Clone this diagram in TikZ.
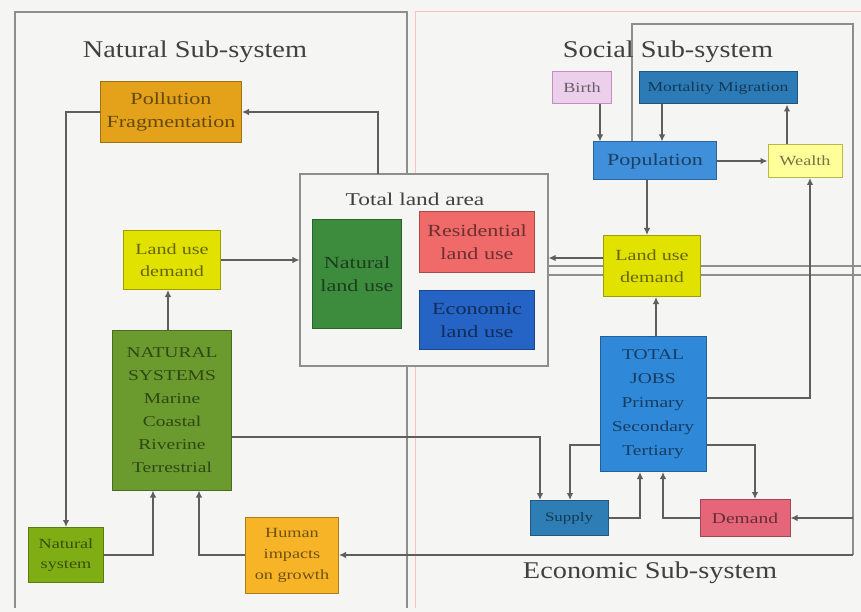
\documentclass[tikz,border=0pt]{standalone}
\usepackage{fontspec}
\setmainfont{Liberation Serif}
\newfontfamily\boxfont[FakeStretch=1.3]{Liberation Serif}
\newfontfamily\titlefont[FakeStretch=1.18]{Liberation Serif}
\usetikzlibrary{positioning,arrows.meta}

\definecolor{bgcol}{HTML}{F5F5F3}
\definecolor{pollcol}{HTML}{E3A21A}
\definecolor{birthcol}{HTML}{EBCFEB}
\definecolor{mortcol}{HTML}{2C7BB6}
\definecolor{popcol}{HTML}{3F8FDA}
\definecolor{wealthcol}{HTML}{FFFF99}
\definecolor{ludcol}{HTML}{E2E200}
\definecolor{natlandcol}{HTML}{3D8B3D}
\definecolor{reslandcol}{HTML}{F06A6A}
\definecolor{ecolandcol}{HTML}{2563C4}
\definecolor{natsyscol}{HTML}{6B9B2E}
\definecolor{natsmallcol}{HTML}{7FAE14}
\definecolor{humancol}{HTML}{F7B427}
\definecolor{jobscol}{HTML}{3088D8}
\definecolor{supplycol}{HTML}{2E7DB5}
\definecolor{demandcol}{HTML}{E56579}
\definecolor{linecol}{HTML}{5E5E5E}

\tikzset{
  sysbox/.style={draw=#1!70!black, fill=#1, text=#1!45!black, line width=1pt,
    inner sep=0pt, align=center, font=\boxfont\fontsize{15.5}{22}\selectfont},
  title/.style={font=\titlefont\fontsize{24}{28}\selectfont, text=black!75},
  frame/.style={draw=linecol!70, line width=1.1pt},
  arr/.style={draw=linecol, line width=1.3pt, -{Latex[length=7pt,width=6.5pt]}}
}

\begin{document}
\begin{tikzpicture}[x=1pt,y=-1pt]
  \fill[bgcol] (0,0) rectangle (861,612);
  \useasboundingbox (0,0) rectangle (861,612);

  % frames of the sub-systems
  \draw[frame] (15,608) -- (15,12) -- (407,12) -- (407,608);
  \draw[draw=red!25, line width=1pt] (415,608) -- (415,12) -- (861,12);
  \draw[frame] (632,142) -- (632,24) -- (853,24) -- (853,555);
  \draw[frame] (548,266) -- (861,266);
  \draw[frame] (548,275) -- (861,275);
  \coordinate (ecoR) at (853,518);
  \coordinate (ecoB) at (853,555);
  \coordinate (tltop) at (378,174);

  \node[title] (nattitle) at (195,52) {Natural Sub-system};
  \node[title] (soctitle) at (668,52) {Social Sub-system};
  \node[title] (ecotitle) at (650,573) {Economic Sub-system};

  % natural sub-system
  \node[sysbox=pollcol, minimum width=141, minimum height=61,
        font=\boxfont\fontsize{17}{23}\selectfont] (poll) at (171,112) {Pollution\\Fragmentation};
  \node[sysbox=ludcol, minimum width=97, minimum height=59] (ludL) at (172,260) {Land use\\demand};
  \node[sysbox=natsyscol, minimum width=119, minimum height=160,
        font=\boxfont\fontsize{15}{23}\selectfont] (natsys) at (172,410)
        {NATURAL\\SYSTEMS\\Marine\\Coastal\\Riverine\\Terrestrial};
  \node[sysbox=natsmallcol, minimum width=75, minimum height=55,
        font=\boxfont\fontsize{14}{20}\selectfont] (natsmall) at (66,555) {Natural\\system};
  \node[sysbox=humancol, minimum width=93, minimum height=76,
        font=\boxfont\fontsize{14}{21}\selectfont] (human) at (292,555) {Human\\impacts\\on growth};

  % total land area
  \node[draw=linecol!70, line width=1.1pt, fill=bgcol, minimum width=248, minimum height=192] (total) at (424,270) {};
  \node[font=\boxfont\fontsize{18}{21}\selectfont, text=black!75] (totaltitle) at (415,199) {Total land area};
  \node[sysbox=natlandcol, minimum width=89, minimum height=109,
        font=\boxfont\fontsize{17}{23}\selectfont] (natland) at (357,274) {Natural\\land use};
  \node[sysbox=reslandcol, minimum width=115, minimum height=60,
        font=\boxfont\fontsize{17}{23}\selectfont] (resland) at (477,242) {Residential\\land use};
  \node[sysbox=ecolandcol, minimum width=115, minimum height=59,
        font=\boxfont\fontsize{17}{23}\selectfont] (ecoland) at (477,320) {Economic\\land use};

  % social sub-system
  \node[sysbox=birthcol, draw=violet!45, minimum width=59, minimum height=32,
        font=\boxfont\fontsize{14}{16}\selectfont] (birth) at (582,88) {Birth};
  \node[sysbox=mortcol, minimum width=158, minimum height=32,
        font=\boxfont\fontsize{13.5}{16}\selectfont] (mort) at (718,88) {Mortality Migration};
  \node[sysbox=popcol, minimum width=123, minimum height=38,
        font=\boxfont\fontsize{17}{20}\selectfont] (pop) at (655,161) {Population};
  \node[sysbox=wealthcol, draw=olive!60, minimum width=74, minimum height=33,
        font=\boxfont\fontsize{14}{16}\selectfont] (wealth) at (805,161) {Wealth};
  \node[sysbox=ludcol, minimum width=97, minimum height=61] (ludR) at (652,266) {Land use\\demand};

  % economic sub-system
  \node[sysbox=jobscol, minimum width=106, minimum height=135,
        font=\boxfont\fontsize{15}{24}\selectfont] (jobs) at (653,404)
        {TOTAL\\JOBS\\Primary\\Secondary\\Tertiary};
  \node[sysbox=supplycol, minimum width=78, minimum height=35,
        font=\boxfont\fontsize{13}{16}\selectfont] (supply) at (569,518) {Supply};
  \node[sysbox=demandcol, minimum width=90, minimum height=37,
        font=\boxfont\fontsize{15}{18}\selectfont] (demand) at (745,518) {Demand};

  % connectors
  \draw[arr] (tltop) |- (poll.east);
  \draw[arr] (poll.west) -| (natsmall.north);
  \draw[arr] (natsmall.east) -| ([xshift=-19pt]natsys.south);
  \draw[arr] (human.west) -| ([xshift=27pt]natsys.south);
  \draw[arr] ([xshift=-4pt]natsys.north) -- ([xshift=-4pt]ludL.south);
  \draw[arr] (ludL.east) -- (ludL.east -| total.west);
  \draw[arr] ([yshift=-27pt]natsys.east) -| ([xshift=-29pt]supply.north);
  \draw[arr] ([yshift=-41pt]jobs.west) -| ([xshift=1pt]supply.north);
  \draw[arr] (supply.east) -| ([xshift=-13pt]jobs.south);
  \draw[arr] (demand.west) -| ([xshift=10pt]jobs.south);
  \draw[arr] ([yshift=-41pt]jobs.east) -| ([xshift=10pt]demand.north);
  \draw[arr] (ecoR) -- (demand.east);
  \draw[arr] (ecoB) -- (human.east);
  \draw[arr] ([xshift=3pt]jobs.north) -- ([xshift=3pt]jobs.north |- ludR.south);
  \draw[arr] ([yshift=6pt]jobs.east) -| ([xshift=5pt]wealth.south);
  \draw[arr] ([xshift=-8pt]pop.south) -- ([xshift=-8pt]pop.south |- ludR.north);
  \draw[arr] ([yshift=8pt]ludR.west) -- ([yshift=8pt]ludR.west -| total.east);
  \draw[arr] (pop.east) -- (wealth.west);
  \draw[arr] ([xshift=-18pt]wealth.north) -- ([xshift=-18pt]wealth.north |- mort.south);
  \draw[arr] ([xshift=18pt]birth.south) -- ([xshift=18pt]birth.south |- pop.north);
  \draw[arr] ([xshift=-56pt]mort.south) -- ([xshift=-56pt]mort.south |- pop.north);
\end{tikzpicture}
\end{document}
